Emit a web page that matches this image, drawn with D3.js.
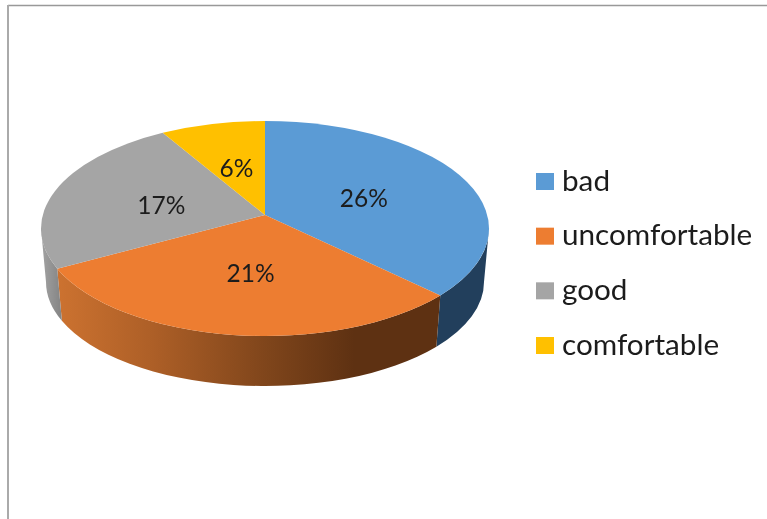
<!DOCTYPE html>
<html><head><meta charset="utf-8">
<script src="https://cdn.jsdelivr.net/npm/d3@7/dist/d3.min.js"></script>
<style>html,body{margin:0;padding:0;background:#fff}svg{display:block;filter:blur(0.45px)}text{font-family:Lato,"Open Sans",sans-serif;fill:#1c1c1c}</style>
</head><body><div id="chart"></div>
<script>
const categories = ["bad","uncomfortable","good","comfortable"];
const values = [26,21,17,6];
const labels = ["26%","21%","17%","6%"];
const colors = ["#5b9bd5","#ed7d31","#a5a5a5","#ffc000"];

const W=767,H=519;
const svg=d3.select("#chart").append("svg").attr("width",W).attr("height",H);

// frame
svg.append("line").attr("x1",8).attr("x2",W).attr("y1",5.5).attr("y2",5.5).attr("stroke","#999").attr("stroke-width",1.5);
svg.append("line").attr("x1",8).attr("x2",8).attr("y1",5).attr("y2",H).attr("stroke","#aaa").attr("stroke-width",2);

// geometry of the tilted disc
const upper={cx:265,cy:228.5,rx:224,ry:107.5};
const lower={cx:265,cy:282,rx:219,ry:104};
const apex={x:265,y:215};

// pie angle -> ellipse parameter, casting a ray from the projected apex
function rim(a){
  const dx=Math.sin(a),dy=-Math.cos(a),oy=(apex.y-upper.cy)/upper.ry;
  const b=oy*dy,c=oy*oy-1,s=-b+Math.sqrt(b*b-c);
  const ex=s*dx,ey=oy+s*dy;
  return Math.atan2(ex,-ey);
}
const pt=(e,t)=>[e.cx+e.rx*Math.sin(t),e.cy-e.ry*Math.cos(t)];
const arcs=d3.pie().sort(null).value(d=>d)(values);

// side walls
const defs=svg.append("defs");
const grad=(id,x1,x2,stops)=>{
  const g=defs.append("linearGradient").attr("id",id).attr("gradientUnits","userSpaceOnUse")
    .attr("x1",x1).attr("x2",x2).attr("y1",0).attr("y2",0);
  stops.forEach(([o,c])=>g.append("stop").attr("offset",o).attr("stop-color",c));
};
grad("sideOrange",58,438,[[0,"#cc7230"],[0.25,"#ad5f27"],[0.55,"#7f451b"],[0.78,"#5e3112"],[1,"#5e3112"]]);
grad("sideGrey",41,62,[[0,"#a3a3a3"],[1,"#838383"]]);
const sideFill=["#223f5c","url(#sideOrange)","url(#sideGrey)",null];
const PI=Math.PI;
const side=svg.append("g");
arcs.forEach((d,i)=>{
  if(!sideFill[i])return;
  let t0=rim(d.startAngle),t1=rim(d.endAngle);
  if(t0<0)t0+=2*PI; if(t1<=0)t1+=2*PI;
  t0=Math.max(t0,PI/2); t1=Math.min(t1,3*PI/2);
  if(t1<=t0)return;
  const a=pt(upper,t0),b=pt(upper,t1),c=pt(lower,t1),e=pt(lower,t0);
  side.append("path").attr("fill",sideFill[i])
    .attr("d",`M${a}A${upper.rx},${upper.ry} 0 0 1 ${b}L${c}A${lower.rx},${lower.ry} 0 0 0 ${e}Z`);
});

// top face
const face=svg.append("g");
arcs.forEach((d,i)=>{
  let t0=rim(d.startAngle),t1=rim(d.endAngle);
  if(t0<0)t0+=2*PI; if(t1<=0)t1+=2*PI;
  const a=pt(upper,t0),b=pt(upper,t1),large=(t1-t0)>PI?1:0;
  face.append("path").attr("fill",colors[i])
    .attr("d",`M${apex.x},${apex.y}L${a}A${upper.rx},${upper.ry} 0 ${large} 1 ${b}Z`);
});

// data labels
const fs=24.5;
arcs.forEach((d,i)=>{
  const m=(d.startAngle+d.endAngle)/2;
  svg.append("text").attr("text-anchor","middle").attr("font-size",fs)
    .attr("x",apex.x+0.48*upper.rx*Math.sin(m))
    .attr("y",apex.y-0.5*upper.ry*Math.cos(m)+13.5)
    .text(labels[i]);
});

// legend
const ly=d3.scalePoint().domain(categories).range([181.5,345.5]);
const leg=svg.append("g").selectAll("g").data(categories).join("g");
leg.append("rect").attr("x",536).attr("y",d=>ly(d)-8.5).attr("width",18).attr("height",17).attr("fill",(d,i)=>colors[i]);
leg.append("text").attr("x",562).attr("y",d=>ly(d)+9).attr("font-size",29.7).text(d=>d);
</script></body></html>
